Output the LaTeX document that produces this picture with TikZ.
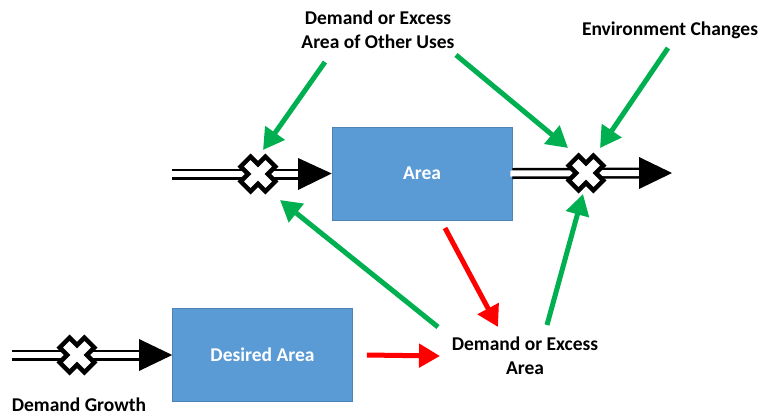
\documentclass[tikz,border=0pt]{standalone}
\usepackage{fontspec}
\setmainfont{Carlito}
\usetikzlibrary{arrows.meta}
\definecolor{boxblue}{HTML}{5B9BD5}
\definecolor{linkgreen}{HTML}{00B050}
\definecolor{linkred}{HTML}{FF0000}
\tikzset{
  stock/.style={rectangle, fill=boxblue, draw=boxblue!85!black, line width=0.6pt,
    minimum width=180pt, minimum height=93pt, text=white, font=\bfseries\fontsize{19.5}{24}\selectfont},
  label/.style={align=center, font=\bfseries\fontsize{19.5}{24}\selectfont, inner sep=1pt},
  valve/.style={circle, minimum size=36pt, inner sep=0pt},
  pipeouter/.style={line width=11pt, black},
  pipeinner/.style={line width=6pt, white},
  pipehead/.style={fill=black},
  garrow/.style={linkgreen, line width=5pt, -{Triangle[length=21pt, width=23pt]}},
  rarrow/.style={linkred, line width=5pt, -{Triangle[length=21pt, width=23pt]}},
}
% the valve symbol: a plus sign turned by 45 degrees
\newcommand{\valvesym}[1]{%
  \begin{scope}[shift={(#1)}, rotate=45]
    \draw[line width=4.5pt, fill=white, line join=miter]
      (17.5,7) -- (7,7) -- (7,17.5) -- (-7,17.5) -- (-7,7) -- (-17.5,7)
      -- (-17.5,-7) -- (-7,-7) -- (-7,-17.5) -- (7,-17.5) -- (7,-7) -- (17.5,-7) -- cycle;
  \end{scope}}
% a double-lined pipe ending in a solid arrow head
\newcommand{\pipeflow}[3]{% start, head base, tip
  \draw[pipeouter] (#1) -- (#2);
  \draw[pipeinner] ([xshift=-2pt]#1) -- (#2);
  \fill[pipehead] ([yshift=16pt]#2) -- (#3) -- ([yshift=-16pt]#2) -- cycle;}
\begin{document}
\begin{tikzpicture}[x=1pt, y=-1pt]
  \useasboundingbox (0,0) rectangle (760,416);

  % stocks
  \node[stock] (area) at (422,173.5) {Area};
  \node[stock] (desired) at (262.5,355) {Desired Area};

  % text variables
  \node[label] (other) at (378,30) {Demand or Excess\\Area of Other Uses};
  \node[label] (env) at (670,30) {Environment Changes};
  \node[label] (growth) at (79,405) {Demand Growth};
  \node[label] (gap) at (525,356) {Demand or Excess\\Area};

  % flow valves
  \node[valve] (v1) at (258,174) {};
  \node[valve] (v2) at (586,173) {};
  \node[valve] (v3) at (77,355) {};
  \coordinate (src1) at (172,174);
  \coordinate (src3) at (12,355);

  % pipes
  \pipeflow{src1}{298,174}{area.west}
  \pipeflow{area.east}{639,173}{672,173}
  \pipeflow{src3}{139,355}{desired.west}
  \valvesym{v1}
  \valvesym{v2}
  \valvesym{v3}

  % green information links
  \draw[garrow] ([shift={(-53,32)}]other.center) -- ([shift={(5,-24)}]v1.center);
  \draw[garrow] ([shift={(78,25)}]other.center) -- ([shift={(-18,-25)}]v2.center);
  \draw[garrow] ([shift={(-2,18)}]env.center) -- ([shift={(14,-25)}]v2.center);
  \draw[garrow] ([shift={(-87,-29)}]gap.center) -- ([shift={(22,26)}]v1.center);
  \draw[garrow] ([shift={(22,-31)}]gap.center) -- ([shift={(-3,21)}]v2.center);

  % red links
  \draw[rarrow] ([shift={(23,54.5)}]area.center) -- ([shift={(-27,-29)}]gap.center);
  \draw[rarrow] ([xshift=14pt]desired.east) -- ([xshift=-85pt]gap.center);
\end{tikzpicture}
\end{document}
